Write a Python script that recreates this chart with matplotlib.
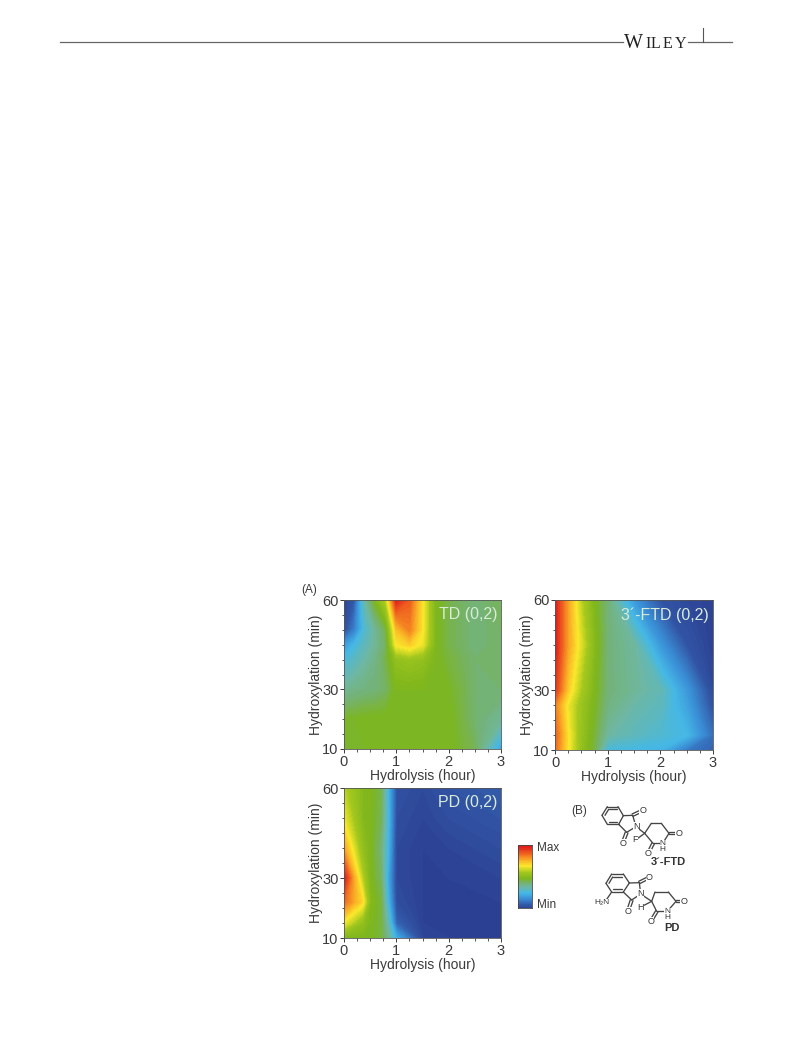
import numpy as np
import matplotlib
matplotlib.use("Agg")
import matplotlib.pyplot as plt
from matplotlib.colors import LinearSegmentedColormap

plt.rcParams['font.family'] = ['Liberation Sans', 'DejaVu Sans']

W, H = 793, 1043
txt = "#3a3a3a"

# data, relative intensity 0 (min) to 1 (max)
td_x = [0, 0.2, 0.4, 0.6, 0.8, 1, 1.25, 1.5, 1.75, 2, 2.5, 3]
td_y = [10, 20, 30, 40, 45, 50, 60]
td_z = [
    [.49, .49, .49, .49, .50, .50, .50, .50, .50, .50, .45, .22],
    [.49, .49, .50, .50, .50, .50, .50, .50, .50, .50, .43, .38],
    [.38, .40, .41, .42, .44, .50, .50, .50, .50, .49, .43, .43],
    [.28, .32, .36, .40, .46, .55, .57, .55, .50, .47, .43, .44],
    [.20, .27, .33, .38, .44, .70, .74, .68, .50, .46, .42, .44],
    [.05, .15, .30, .38, .46, .76, .85, .70, .50, .46, .42, .44],
    [.02, .08, .36, .50, .62, .99, .90, .70, .50, .46, .42, .45],
]

ftd_x = [0, 0.25, 0.5, 0.75, 1, 1.5, 2, 2.5, 3]
ftd_y = [10, 15, 25, 30, 45, 60]
ftd_z = [
    [.88, .70, .55, .46, .28, .27, .26, .14, .10],
    [.90, .70, .56, .47, .37, .33, .30, .27, .12],
    [.85, .68, .57, .49, .41, .36, .33, .22, .06],
    [.96, .74, .60, .50, .42, .38, .34, .20, .04],
    [1.0, .80, .66, .52, .42, .37, .20, .07, .02],
    [1.0, .80, .62, .50, .42, .20, .07, .04, .02],
]

pd_x = [0, 0.35, 0.5, 0.7, 0.85, 1, 1.5, 2, 3]
pd_y = [10, 15, 22, 30, 40, 50, 60]
pd_z = [
    [.50, .50, .50, .47, .38, .24, .03, .02, .02],
    [.68, .55, .50, .47, .33, .10, .02, .02, .02],
    [.88, .72, .52, .47, .25, .05, .02, .02, .02],
    [1.0, .62, .50, .44, .22, .04, .02, .02, .03],
    [.80, .55, .50, .42, .25, .04, .02, .03, .05],
    [.68, .52, .50, .45, .26, .05, .03, .05, .07],
    [.62, .52, .50, .46, .25, .06, .04, .07, .09],
]

panels = [
    ("TD (0,2)", td_x, td_y, td_z, (344, 600, 501, 749)),
    ("3\u00b4-FTD (0,2)", ftd_x, ftd_y, ftd_z, (555, 600, 713, 750)),
    ("PD (0,2)", pd_x, pd_y, pd_z, (344, 788, 501, 938)),
]

cmap = LinearSegmentedColormap.from_list("map", [
    (0.0, "#2a3c8e"), (0.08, "#3358a8"), (0.18, "#3a8fd6"), (0.27, "#45b8e6"),
    (0.37, "#6fb7a0"), (0.43, "#74b270"), (0.50, "#7db61c"), (0.60, "#a4c81e"),
    (0.70, "#fbe92c"), (0.80, "#f9a825"), (0.90, "#ef5f1f"), (1.0, "#de1f1c"),
])
levels = np.linspace(0, 1, 101)


def px_axes(fig, box):
    x0, y0, x1, y1 = box
    return fig.add_axes([x0 / W, 1 - y1 / H, (x1 - x0) / W, (y1 - y0) / H])


fig = plt.figure(figsize=(W / 100, H / 100), dpi=100)

for name, x, y, z, box in panels:
    ax = px_axes(fig, box)
    cs = ax.contourf(x, y, z, levels=levels, cmap=cmap, extend="both")
    cs.set_edgecolor("face")
    cs.set_linewidth(0.4)
    ax.set_xlim(0, 3)
    ax.set_ylim(10, 60)
    ax.set_xticks([0, 1, 2, 3])
    ax.set_xticks(np.arange(0, 3.01, 0.25), minor=True)
    ax.set_yticks([10, 30, 60])
    ax.set_yticks(np.arange(10, 61, 5), minor=True)
    ax.tick_params(which="major", length=3, width=0.7, labelsize=10.5, colors=txt, pad=1)
    ax.tick_params(which="minor", length=1.8, width=0.6, colors=txt)
    for s in ax.spines.values():
        s.set_linewidth(0.6)
        s.set_color("#555555")
    ax.set_xlabel("Hydrolysis (hour)", fontsize=10, color=txt, labelpad=0)
    ax.set_ylabel("Hydroxylation (min)", fontsize=10, color=txt, labelpad=-0.5)
    ax.text(0.975, 0.9, name, transform=ax.transAxes, ha="right", va="center",
            fontsize=11.5, color="#d8ecd8")

# colour scale
cax = px_axes(fig, (518, 845, 532, 908))
bar = cax.contourf([0, 1], levels, np.column_stack([levels, levels]), levels=levels, cmap=cmap)
bar.set_edgecolor("face")
cax.set_xticks([])
cax.set_yticks([])
for s in cax.spines.values():
    s.set_linewidth(0.6)
    s.set_color("#444444")

# overlay in pixel coordinates: page furniture and structures
ov = fig.add_axes([0, 0, 1, 1])
ov.set_xlim(0, W)
ov.set_ylim(H, 0)
ov.axis("off")
ov.patch.set_alpha(0)

ov.plot([60, 623], [42, 42], color="#666666", lw=0.9)
ov.plot([688, 732], [42, 42], color="#666666", lw=0.9)
ov.plot([703, 703], [28, 42], color="#555555", lw=0.8)
serif = "Liberation Serif"
ov.text(624, 48, "W", family=serif, fontsize=14.5, color="#222222", va="baseline")
for letter, lx in zip("ILEY", [645, 651, 663, 675]):
    ov.text(lx, 48, letter, family=serif, fontsize=11.5, color="#222222", va="baseline")

ov.text(301, 590, "(A)", fontsize=8.5, color=txt, va="center")
ov.text(571, 811, "(B)", fontsize=8.5, color=txt, va="center")
ov.text(537, 848, "Max", fontsize=8.5, color=txt, va="center")
ov.text(537, 905, "Min", fontsize=8.5, color=txt, va="center")


def bonds(dx, dy, segs):
    for (a, b, c, d) in segs:
        ov.plot([dx + a / 3, dx + c / 3], [dy + b / 3, dy + d / 3], color="#444444", lw=0.95,
                solid_capstyle="round")


def atom(dx, dy, zx, zy, s, size=6.5, bold=False):
    ov.text(dx + zx / 3, dy + zy / 3, s, fontsize=size, color="#333333", ha="center", va="center",
            fontweight="bold" if bold else "normal", linespacing=0.85,
            bbox=None if bold else dict(fc="white", ec="none", pad=0.1))


ftd_dx, ftd_dy = 598, 800
bonds(ftd_dx, ftd_dy, [
    (12, 46, 28, 20), (28, 20, 60, 20), (60, 20, 76, 47), (76, 47, 62, 73), (62, 73, 28, 73), (28, 73, 12, 46),
    (33, 28, 56, 28), (33, 65, 57, 65), (21, 46, 32, 28),
    (76, 47, 104, 46), (104, 46, 114, 80), (114, 80, 86, 97), (86, 97, 62, 73),
    (102, 42, 128, 30), (105, 49, 131, 37), (82, 96, 71, 125), (90, 99, 79, 127),
    (114, 80, 140, 100), (140, 100, 160, 70), (160, 70, 190, 70), (190, 70, 213, 100),
    (213, 100, 194, 130), (194, 130, 165, 130), (165, 130, 140, 100),
    (213, 97, 236, 97), (213, 103, 236, 103), (162, 128, 148, 156), (169, 132, 155, 159),
    (140, 100, 118, 116),
])
atom(ftd_dx, ftd_dy, 114, 80, "N")
atom(ftd_dx, ftd_dy, 134, 32, "O")
atom(ftd_dx, ftd_dy, 75, 131, "O")
atom(ftd_dx, ftd_dy, 112, 120, "F")
atom(ftd_dx, ftd_dy, 194, 139, "N\nH", 6)
atom(ftd_dx, ftd_dy, 242, 100, "O")
atom(ftd_dx, ftd_dy, 150, 162, "O")
atom(ftd_dx, ftd_dy, 210, 187, "3\u00b4-FTD", 8, True)

pd_dx, pd_dy = 590, 868
bonds(pd_dx, pd_dy, [
    (48, 46, 65, 18), (65, 18, 100, 18), (100, 18, 118, 45), (118, 45, 100, 72), (100, 72, 65, 72), (65, 72, 48, 46),
    (70, 26, 96, 26), (70, 64, 96, 64), (57, 46, 68, 27),
    (118, 45, 148, 44), (148, 44, 152, 78), (152, 78, 125, 96), (125, 96, 100, 72),
    (146, 40, 172, 27), (149, 47, 175, 34), (121, 95, 111, 125), (129, 98, 119, 127),
    (65, 72, 50, 94),
    (152, 78, 185, 100), (185, 100, 195, 72), (195, 72, 235, 72), (235, 72, 258, 100),
    (258, 100, 232, 130), (232, 130, 200, 130), (200, 130, 185, 100),
    (258, 97, 276, 97), (258, 103, 276, 103), (197, 128, 181, 155), (204, 132, 188, 158),
    (185, 100, 162, 112),
])
atom(pd_dx, pd_dy, 152, 78, "N")
atom(pd_dx, pd_dy, 178, 28, "O")
atom(pd_dx, pd_dy, 114, 131, "O")
atom(pd_dx, pd_dy, 153, 117, "H")
atom(pd_dx, pd_dy, 35, 103, "H\u2082N", 6)
atom(pd_dx, pd_dy, 232, 139, "N\nH", 6)
atom(pd_dx, pd_dy, 282, 100, "O")
atom(pd_dx, pd_dy, 182, 160, "O")
atom(pd_dx, pd_dy, 245, 181, "PD", 8, True)

fig.savefig("out.png", dpi=100)
